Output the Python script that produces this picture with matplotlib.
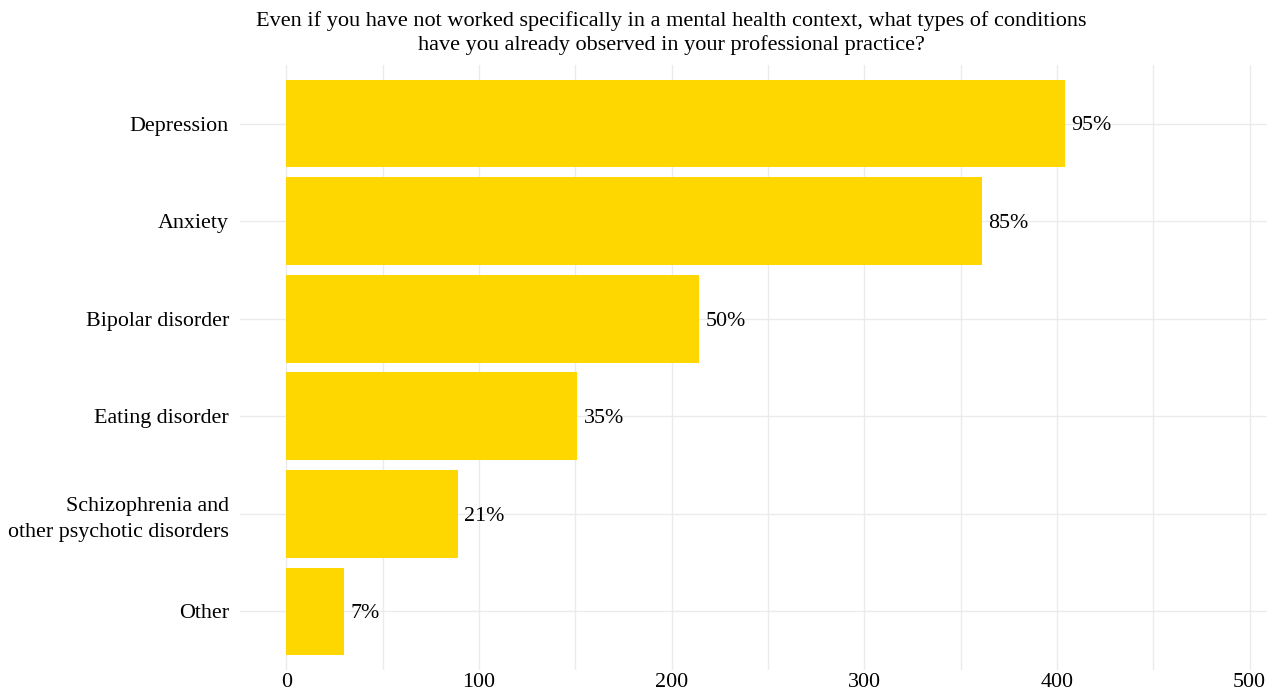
import matplotlib
matplotlib.use("Agg")
import matplotlib.pyplot as plt
import numpy as np

plt.rcParams['font.family'] = ['Liberation Serif', 'DejaVu Serif']

categories = ['Depression', 'Anxiety', 'Bipolar disorder', 'Eating disorder',
              'Schizophrenia and\nother psychotic disorders', 'Other']
counts = [404, 361, 214, 151, 89, 30]
pct_labels = ['95%', '85%', '50%', '35%', '21%', '7%']
xticks = [0, 100, 200, 300, 400, 500]

fig = plt.figure(figsize=(12.86, 6.97), dpi=100)
# panel spans roughly x 240..1267, y 65..670 (pixels)
ax = fig.add_axes([240/1286, 1 - 670/697, (1267-240)/1286, (670-65)/697])

ypos = np.arange(len(categories))[::-1]
ax.barh(ypos, counts, height=0.9, color='#FFD700', zorder=3)
for y, v, lab in zip(ypos, counts, pct_labels):
    ax.text(v + 3.5, y - 0.025, lab, va='center', ha='left', fontsize=15.8, color='black', zorder=4)

ax.set_xlim(-24, 509)
ax.set_ylim(-0.6, len(categories) - 0.4)
ax.set_xticks(xticks)
ax.set_xticks([50, 150, 250, 350, 450], minor=True)
ax.set_yticks(ypos)
ax.set_yticklabels(categories, linespacing=1.45)
ax.grid(True, which='both', axis='x', color='#EBEBEB', lw=1.0, zorder=0)
ax.grid(True, which='major', axis='y', color='#EBEBEB', lw=1.0, zorder=0)
ax.tick_params(axis='both', which='both', length=0, labelsize=15.8, colors='black')
ax.tick_params(axis='y', pad=8)
ax.tick_params(axis='x', pad=2)
for s in ax.spines.values():
    s.set_visible(False)

fig.text(671/1286, 1 - 33/697,
         'Even if you have not worked specifically in a mental health context, what types of conditions\n'
         'have you already observed in your professional practice?',
         ha='center', va='center', fontsize=16, linespacing=1.3)

fig.savefig('out.png', dpi=100, facecolor='white')
